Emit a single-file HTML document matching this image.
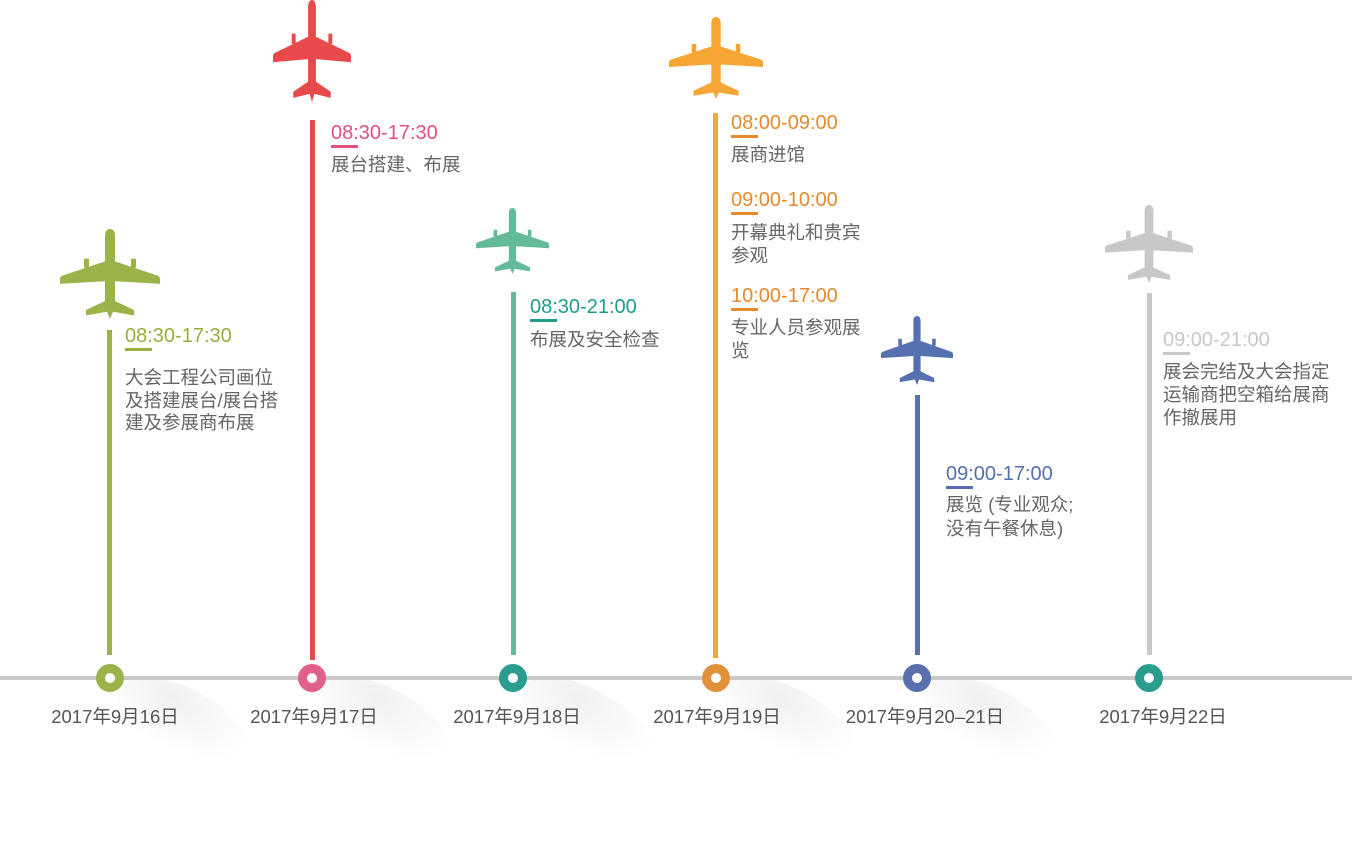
<!DOCTYPE html>
<html><head><meta charset="utf-8"><style>
body{margin:0;width:1352px;height:845px;position:relative;background:#fff;overflow:hidden;font-family:"Liberation Sans","Noto Sans CJK SC",sans-serif}
.a{position:absolute}
.t{position:absolute;font-size:20px;line-height:22px;white-space:nowrap}
.t i{position:absolute;left:0;top:23px;width:27px;height:3px}
.b{position:absolute;font-size:18.5px;line-height:23px;color:#666;white-space:nowrap}
.d{position:absolute;top:703px;font-size:18.5px;color:#555;width:240px;text-align:center;white-space:nowrap}
.c{position:absolute;top:664px;width:10px;height:10px;border-radius:50%;border:9px solid;background:#fff}
.v{position:absolute;width:5px}
.sh{position:absolute;top:690px;width:150px;height:70px;border-radius:50%;background:radial-gradient(ellipse at 35% 25%,rgba(0,0,0,.06),rgba(0,0,0,0) 65%);transform:rotate(30deg)}
</style></head><body>
<svg width="0" height="0" style="position:absolute"><defs>
<path id="pl" d="M50 0C54 0 55 4 55 8L55 36L98 52Q100 53 100 56L100 61L55 58L55 80L74 90L74 96L53 92L50 100L47 92L26 96L26 90L45 80L45 58L0 61L0 56Q0 53 2 52L45 36L45 8C45 4 46 0 50 0Z M24 33h5v10h-5z M71 33h5v10h-5z"/>
</defs></svg>
<div class="sh" style="left:110px"></div><div class="sh" style="left:312px"></div><div class="sh" style="left:513px"></div><div class="sh" style="left:716px"></div><div class="sh" style="left:917px"></div>
<div class="a" style="left:0;top:676px;width:1352px;height:4px;background:#c9c9c9"></div>

<svg class="a" style="left:60px;top:229px" width="100" height="90" viewBox="0 0 100 100" preserveAspectRatio="none"><use href="#pl" fill="#9bb44a"/></svg>
<svg class="a" style="left:273px;top:0px" width="78" height="102" viewBox="0 0 100 100" preserveAspectRatio="none"><use href="#pl" fill="#e84a4c"/></svg>
<svg class="a" style="left:476px;top:208px" width="73" height="66" viewBox="0 0 100 100" preserveAspectRatio="none"><use href="#pl" fill="#64bb9a"/></svg>
<svg class="a" style="left:669px;top:17px" width="94" height="82" viewBox="0 0 100 100" preserveAspectRatio="none"><use href="#pl" fill="#f6a634"/></svg>
<svg class="a" style="left:881px;top:316px" width="72" height="69" viewBox="0 0 100 100" preserveAspectRatio="none"><use href="#pl" fill="#5671b0"/></svg>
<svg class="a" style="left:1105px;top:205px" width="88" height="78" viewBox="0 0 100 100" preserveAspectRatio="none"><use href="#pl" fill="#c8c8c8"/></svg>

<div class="v" style="left:107px;top:330px;height:325px;background:#9bb44a"></div>
<div class="v" style="left:310px;top:120px;height:540px;background:#e84a4c"></div>
<div class="v" style="left:511px;top:292px;height:363px;background:#64bb9a"></div>
<div class="v" style="left:713px;top:113px;height:545px;background:#f6a634"></div>
<div class="v" style="left:915px;top:395px;height:260px;background:#5671b0"></div>
<div class="v" style="left:1147px;top:293px;height:362px;background:#c8c8c8"></div>

<div class="c" style="left:96px;border-color:#9bb44a"></div>
<div class="c" style="left:298px;border-color:#e0608a"></div>
<div class="c" style="left:499px;border-color:#2a9d8f"></div>
<div class="c" style="left:702px;border-color:#e0913a"></div>
<div class="c" style="left:903px;border-color:#5a6fae"></div>
<div class="c" style="left:1135px;border-color:#2a9d8f"></div>

<div class="d" style="left:-5px">2017年9月16日</div>
<div class="d" style="left:194px">2017年9月17日</div>
<div class="d" style="left:397px">2017年9月18日</div>
<div class="d" style="left:597px">2017年9月19日</div>
<div class="d" style="left:805px">2017年9月20–21日</div>
<div class="d" style="left:1043px">2017年9月22日</div>

<div class="t" style="left:125px;top:325px;color:#9aad3d">08:30-17:30<i style="background:#9aad3d"></i></div>
<div class="b" style="left:125px;top:367px;line-height:22.5px">大会工程公司画位<br>及搭建展台/展台搭<br>建及参展商布展</div>

<div class="t" style="left:331px;top:122px;color:#e3507a">08:30-17:30<i style="background:#e3507a"></i></div>
<div class="b" style="left:331px;top:153px">展台搭建、布展</div>

<div class="t" style="left:530px;top:296px;color:#1e9c8c">08:30-21:00<i style="background:#1e9c8c"></i></div>
<div class="b" style="left:530px;top:328px">布展及安全检查</div>

<div class="t" style="left:731px;top:112px;color:#e58a2c">08:00-09:00<i style="background:#e58a2c"></i></div>
<div class="b" style="left:731px;top:143px">展商进馆</div>
<div class="t" style="left:731px;top:189px;color:#e58a2c">09:00-10:00<i style="background:#e58a2c"></i></div>
<div class="b" style="left:731px;top:221px">开幕典礼和贵宾<br>参观</div>
<div class="t" style="left:731px;top:285px;color:#e58a2c">10:00-17:00<i style="background:#e58a2c"></i></div>
<div class="b" style="left:731px;top:316px">专业人员参观展<br>览</div>

<div class="t" style="left:946px;top:463px;color:#5470b0">09:00-17:00<i style="background:#5470b0"></i></div>
<div class="b" style="left:946px;top:493px;line-height:24px">展览 (专业观众;<br>没有午餐休息)</div>

<div class="t" style="left:1163px;top:329px;color:#c8c8c8">09:00-21:00<i style="background:#c8c8c8"></i></div>
<div class="b" style="left:1163px;top:360px">展会完结及大会指定<br>运输商把空箱给展商<br>作撤展用</div>
</body></html>
